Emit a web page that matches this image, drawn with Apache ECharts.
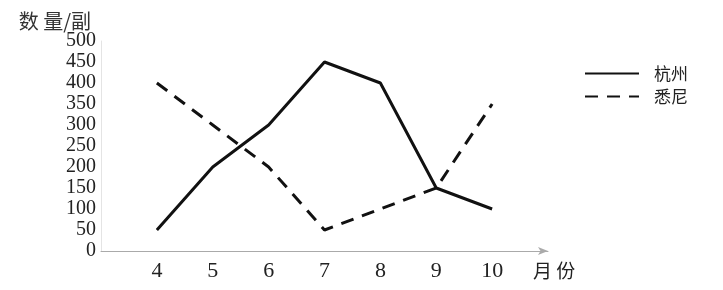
<!DOCTYPE html>
<html><head><meta charset="utf-8">
<script src="https://cdn.jsdelivr.net/npm/echarts@6/dist/echarts.min.js"></script>
<style>html,body{margin:0;padding:0;background:#fff}#c{width:723px;height:290px}</style>
</head><body><div id="c"></div>
<script>
var months = [4, 5, 6, 7, 8, 9, 10];
var hangzhou = [50, 200, 300, 450, 400, 150, 100];
var sydney = [400, 300, 200, 50, 100, 150, 350];
var seriesNames = ['杭州', '悉尼'];

function pairs(vals){ return months.map(function(m,i){ return [m, vals[i]]; }); }

var chart = echarts.init(document.getElementById('c'));
chart.setOption({
  animation: false,
  backgroundColor: '#fff',
  grid: { left: 101, right: 175, top: 41, bottom: 39 },
  legend: {
    orient: 'vertical', right: 30, top: 60, itemWidth: 54, itemHeight: 14, itemGap: 6,
    itemStyle: { opacity: 0 },
    textStyle: { fontFamily: 'Noto Sans CJK SC', fontSize: 17, color: '#222', padding: [0, 0, 0, 10] },
    data: seriesNames
  },
  xAxis: {
    type: 'value', min: 3, max: 11, interval: 1,
    axisLine: { show: true, symbol: ['none', 'arrow'], symbolSize: [6, 10], lineStyle: { color: '#aaa', width: 1 } },
    axisTick: { show: false }, splitLine: { show: false },
    axisLabel: { showMinLabel: false, showMaxLabel: false, margin: 9, color: '#222', fontFamily: 'Liberation Serif', fontSize: 22 },
    name: '月 份', nameLocation: 'end', nameGap: -15,
    nameTextStyle: { fontFamily: 'Noto Sans CJK SC', fontSize: 19, color: '#222', verticalAlign: 'top', padding: [10, 0, 0, 0] }
  },
  yAxis: {
    type: 'value', min: 0, max: 500, interval: 50,
    axisLine: { show: true, lineStyle: { color: '#e4e4e4', width: 1 } },
    axisTick: { show: false }, splitLine: { show: false },
    axisLabel: { hideOverlap: false, margin: 5, color: '#222', fontFamily: 'Liberation Serif', fontSize: 20 },
    name: '数 量/副', nameLocation: 'end', nameGap: 10,
    nameTextStyle: { fontFamily: 'Noto Sans CJK SC', fontSize: 20, color: '#333', align: 'right', padding: [0, 10, 0, 0] }
  },
  series: [
    { name: seriesNames[0], type: 'line', data: pairs(hangzhou), symbol: 'none',
      lineStyle: { color: '#111', width: 3, type: 'solid' }, itemStyle: { color: '#111' } },
    { name: seriesNames[1], type: 'line', data: pairs(sydney), symbol: 'none',
      lineStyle: { color: '#111', width: 3, type: [13, 9] }, itemStyle: { color: '#111' } }
  ]
});
</script></body></html>
